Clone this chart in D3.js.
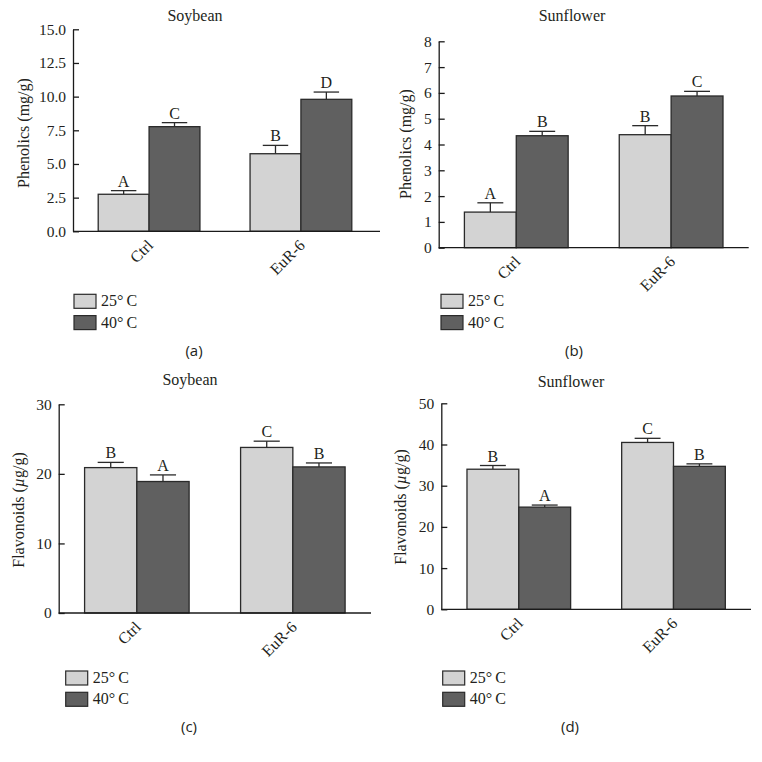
<!DOCTYPE html>
<html>
<head>
<meta charset="utf-8">
<script src="https://cdn.jsdelivr.net/npm/d3@7"></script>
<style>
html,body{margin:0;padding:0;background:#fff;}
svg{display:block;}
</style>
</head>
<body>
<svg id="chart" width="762" height="762"></svg>
<script>
// ---------- DATA ----------
const groups = ["Ctrl", "EuR-6"];
const seriesNames = ["25°C", "40°C"];

// (a) Soybean phenolics (mg/g)
const soyPhen25 = [2.75, 5.76];
const soyPhen40 = [7.77, 9.80];
const soyPhenErr25 = [0.27, 0.62];
const soyPhenErr40 = [0.30, 0.54];
const soyPhenLet25 = ["A", "B"];
const soyPhenLet40 = ["C", "D"];
const soyPhenTicks = [0, 2.5, 5, 7.5, 10, 12.5, 15];

// (b) Sunflower phenolics (mg/g)
const sunPhen25 = [1.38, 4.38];
const sunPhen40 = [4.34, 5.88];
const sunPhenErr25 = [0.36, 0.35];
const sunPhenErr40 = [0.17, 0.18];
const sunPhenLet25 = ["A", "B"];
const sunPhenLet40 = ["B", "C"];
const sunPhenTicks = [0, 1, 2, 3, 4, 5, 6, 7, 8];

// (c) Soybean flavonoids (µg/g)
const soyFlav25 = [20.9, 23.8];
const soyFlav40 = [18.9, 21.0];
const soyFlavErr25 = [0.75, 0.9];
const soyFlavErr40 = [0.95, 0.57];
const soyFlavLet25 = ["B", "C"];
const soyFlavLet40 = ["A", "B"];
const soyFlavTicks = [0, 10, 20, 30];

// (d) Sunflower flavonoids (µg/g)
const sunFlav25 = [34.0, 40.5];
const sunFlav40 = [24.8, 34.7];
const sunFlavErr25 = [0.9, 1.0];
const sunFlavErr40 = [0.5, 0.6];
const sunFlavLet25 = ["B", "C"];
const sunFlavLet40 = ["A", "B"];
const sunFlavTicks = [0, 10, 20, 30, 40, 50];

// ---------- STYLE / LAYOUT ----------
const colors = ["#d3d3d3", "#606060"];
const strokeCol = "#2a2a2a";
const textCol = "#231f20";
const serif = "'Liberation Serif', 'Times New Roman', serif";
const sans = "'Open Sans', 'Noto Sans', sans-serif";

const panels = [
  { title: "Soybean", ylab: "Phenolics", unit: "mg", caption: "(a)",
    v: [soyPhen25, soyPhen40], e: [soyPhenErr25, soyPhenErr40], l: [soyPhenLet25, soyPhenLet40],
    ticks: soyPhenTicks, fmt: d3.format(".1f"),
    L: { x0: 73, xBand: 377, xEnd: 380, yBase: 231.3, yTop: 29.3,
         titleX: 195, titleY: 21, ylabX: 29, ylabY: 133, capX: 194, capY: 356, legX: 74, legY: 294.3 } },
  { title: "Sunflower", ylab: "Phenolics", unit: "mg", caption: "(b)",
    v: [sunPhen25, sunPhen40], e: [sunPhenErr25, sunPhenErr40], l: [sunPhenLet25, sunPhenLet40],
    ticks: sunPhenTicks, fmt: d3.format("d"),
    L: { x0: 438.7, xBand: 748.7, xEnd: 748.7, yBase: 247.7, yTop: 41.3,
         titleX: 572, titleY: 21, ylabX: 411, ylabY: 144, capX: 574, capY: 356, legX: 441, legY: 294.3 } },
  { title: "Soybean", ylab: "Flavonoids", unit: "µg", caption: "(c)",
    v: [soyFlav25, soyFlav40], e: [soyFlavErr25, soyFlavErr40], l: [soyFlavLet25, soyFlavLet40],
    ticks: soyFlavTicks, fmt: d3.format("d"),
    L: { x0: 58.7, xBand: 371, xEnd: 371, yBase: 613, yTop: 404.3,
         titleX: 190, titleY: 385, ylabX: 24, ylabY: 510, capX: 189, capY: 732, legX: 65.7, legY: 671 } },
  { title: "Sunflower", ylab: "Flavonoids", unit: "µg", caption: "(d)",
    v: [sunFlav25, sunFlav40], e: [sunFlavErr25, sunFlavErr40], l: [sunFlavLet25, sunFlavLet40],
    ticks: sunFlavTicks, fmt: d3.format("d"),
    L: { x0: 441.3, xBand: 751, xEnd: 751, yBase: 609.3, yTop: 403.3,
         titleX: 571, titleY: 387, ylabX: 406, ylabY: 507, capX: 570, capY: 732, legX: 442.7, legY: 671 } }
];

const svg = d3.select("#chart");

panels.forEach(p => {
  const L = p.L;
  const g = svg.append("g");
  const x = d3.scaleBand().domain(groups).range([L.x0, L.xBand]).paddingInner(0.33).paddingOuter(0.166);
  const xs = d3.scaleBand().domain(seriesNames).range([0, x.bandwidth()]);
  const ymax = p.ticks[p.ticks.length - 1];
  const y = d3.scaleLinear().domain([0, ymax]).range([L.yBase, L.yTop]);

  const recs = [];
  groups.forEach((gName, gi) => {
    seriesNames.forEach((s, si) => {
      recs.push({ g: gName, s: s, si: si, v: p.v[si][gi], e: p.e[si][gi], l: p.l[si][gi] });
    });
  });

  // error bars (upper) + significance letters
  const capHalf = xs.bandwidth() * 0.25;
  const eb = g.append("g");
  recs.forEach(r => {
    const cx = x(r.g) + xs(r.s) + xs.bandwidth() / 2;
    eb.append("line").attr("x1", cx).attr("x2", cx).attr("y1", y(r.v)).attr("y2", y(r.v + r.e))
      .attr("stroke", strokeCol).attr("stroke-width", 1.3);
    eb.append("line").attr("x1", cx - capHalf).attr("x2", cx + capHalf).attr("y1", y(r.v + r.e)).attr("y2", y(r.v + r.e))
      .attr("stroke", strokeCol).attr("stroke-width", 1.3);
    g.append("text").attr("x", cx).attr("y", y(r.v + r.e) - 4)
      .attr("text-anchor", "middle").attr("font-family", serif).attr("font-size", 16).attr("fill", textCol)
      .text(r.l);
  });

  // bars
  g.append("g").selectAll("rect").data(recs).join("rect")
    .attr("x", r => x(r.g) + xs(r.s))
    .attr("y", r => y(r.v))
    .attr("width", xs.bandwidth())
    .attr("height", r => y(0) - y(r.v))
    .attr("fill", r => colors[r.si])
    .attr("stroke", strokeCol).attr("stroke-width", 1.3);

  // y axis (ticks inward)
  const ya = g.append("g").attr("transform", `translate(${L.x0},0)`)
    .call(d3.axisLeft(y).tickValues(p.ticks).tickFormat(p.fmt).tickSizeInner(-6).tickSizeOuter(0).tickPadding(7));
  ya.select(".domain").attr("stroke", "#1a1a1a").attr("stroke-width", 1.3);
  ya.selectAll(".tick line").attr("stroke", "#1a1a1a").attr("stroke-width", 1.3);
  ya.selectAll(".tick text").attr("font-family", serif).attr("font-size", 15.5).attr("fill", textCol);

  // x axis line
  g.append("line").attr("x1", L.x0).attr("x2", L.xEnd).attr("y1", L.yBase).attr("y2", L.yBase)
    .attr("stroke", "#1a1a1a").attr("stroke-width", 1.3);

  // x labels rotated
  groups.forEach(gName => {
    const cx = x(gName) + x.bandwidth() / 2;
    g.append("text")
      .attr("transform", `translate(${cx + 5},${L.yBase + 15}) rotate(-45)`)
      .attr("text-anchor", "end")
      .attr("font-family", serif).attr("font-size", 16).attr("fill", textCol)
      .text(gName);
  });

  // title
  g.append("text").attr("x", L.titleX).attr("y", L.titleY).attr("text-anchor", "middle")
    .attr("font-family", serif).attr("font-size", 16).attr("fill", textCol).text(p.title);

  // y label
  const yl = g.append("text")
    .attr("transform", `translate(${L.ylabX},${L.ylabY}) rotate(-90)`)
    .attr("text-anchor", "middle")
    .attr("font-family", serif).attr("font-size", 16).attr("fill", textCol);
  yl.append("tspan").text(p.ylab + " (");
  if (p.unit === "µg") {
    yl.append("tspan").attr("font-style", "italic").text("µ");
    yl.append("tspan").text("g/g)");
  } else {
    yl.append("tspan").text(p.unit + "/g)");
  }

  // legend
  seriesNames.forEach((s, i) => {
    const ly = L.legY + i * 21.3;
    g.append("rect").attr("x", L.legX).attr("y", ly).attr("width", 22).attr("height", 14)
      .attr("fill", colors[i]).attr("stroke", strokeCol).attr("stroke-width", 1.2);
    g.append("text").attr("x", L.legX + 27).attr("y", ly + 12)
      .attr("font-family", serif).attr("font-size", 16).attr("fill", textCol)
      .text(s.replace("°", "°\u2009"));
  });

  // caption
  g.append("text").attr("x", L.capX).attr("y", L.capY).attr("text-anchor", "middle")
    .attr("font-family", sans).attr("font-size", 15).attr("fill", textCol).text(p.caption);
});
</script>
</body>
</html>
